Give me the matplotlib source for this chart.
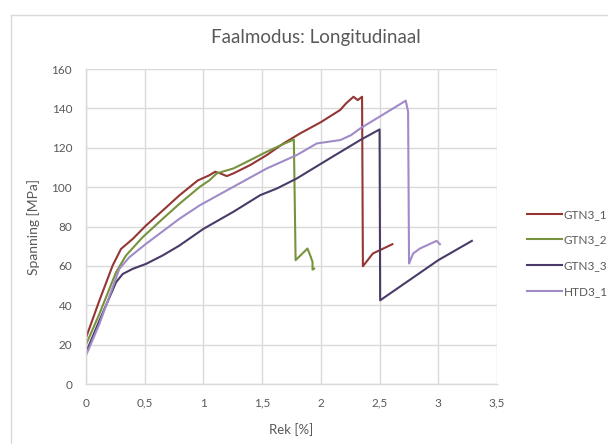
import matplotlib
matplotlib.use("Agg")
import matplotlib.pyplot as plt
from matplotlib.lines import Line2D

title = "Faalmodus: Longitudinaal"
xlabel = "Rek [%]"
ylabel = "Spanning [MPa]"

xticks = [0, 0.5, 1, 1.5, 2, 2.5, 3, 3.5]
xticklabels = ["0", "0,5", "1", "1,5", "2", "2,5", "3", "3,5"]
yticks = [0, 20, 40, 60, 80, 100, 120, 140, 160]
yticklabels = ["0", "20", "40", "60", "80", "100", "120", "140", "160"]

names = ["GTN3_1", "GTN3_2", "GTN3_3", "HTD3_1"]

gtn3_1_x = [0, 0.114, 0.227, 0.298, 0.398, 0.511, 0.653, 0.795, 0.952, 1.05, 1.099, 1.142,
            1.199, 1.256, 1.398, 1.54, 1.682, 1.824, 2.0, 2.165, 2.214, 2.278, 2.314, 2.351,
            2.358, 2.443, 2.609]
gtn3_1_y = [23.5, 42.4, 60.2, 68.6, 73.7, 80.5, 88.1, 95.8, 103.4, 106, 107.8, 107,
            105.6, 107, 111.2, 116.3, 122.2, 127.3, 133, 139.2, 142.5, 145.9, 144.2, 145.9,
            59.8, 66.3, 71.0]

gtn3_2_x = [0, 0.114, 0.256, 0.341, 0.483, 0.653, 0.795, 0.97, 1.05, 1.114, 1.256, 1.398,
            1.54, 1.682, 1.77, 1.785, 1.886, 1.914, 1.929, 1.929, 1.943]
gtn3_2_y = [20, 35.6, 56.8, 65.3, 74.6, 83.9, 91.5, 100.2, 103.4, 107, 109.5, 113.7,
            118, 121.9, 124.2, 62.9, 68.8, 64.6, 62, 58.1, 58.6]

gtn3_3_x = [0, 0.114, 0.256, 0.313, 0.398, 0.511, 0.653, 0.795, 1.0, 1.256, 1.483, 1.625,
            1.795, 2.051, 2.335, 2.5, 2.505, 3.0, 3.286]
gtn3_3_y = [16, 32.2, 51.7, 55.9, 58.5, 61, 65.3, 70.3, 78.8, 87.5, 95.9, 99.3,
            104.4, 113.7, 123.9, 129.3, 42.5, 62.9, 72.7]

htd3_1_x = [0, 0.114, 0.284, 0.369, 0.511, 0.795, 0.97, 1.256, 1.54, 1.795, 1.966, 2.165,
            2.257, 2.335, 2.723, 2.743, 2.751, 2.786, 2.843, 2.986, 3.014]
htd3_1_y = [14.5, 30.5, 58.5, 64.4, 71.2, 83.9, 90.8, 100.2, 109.5, 116.3, 122.2, 123.9,
            126.4, 129.8, 143.9, 138.3, 61.2, 66.3, 68.8, 72.7, 71]

series_x = [gtn3_1_x, gtn3_2_x, gtn3_3_x, htd3_1_x]
series_y = [gtn3_1_y, gtn3_2_y, gtn3_3_y, htd3_1_y]
colors = ["#943634", "#77933C", "#4A3A68", "#A08BC8"]

plt.rcParams['font.family'] = ['Lato', 'DejaVu Sans']
txt = "#595959"
W, H = 608, 444
fig = plt.figure(figsize=(W / 100, H / 100), dpi=100)

# chart area border
fig.add_artist(Line2D([11 / W, 11 / W], [0, 1 - 15 / H], transform=fig.transFigure,
                      color="#D9D9D9", lw=1.0))
fig.add_artist(Line2D([11 / W, 1], [1 - 15 / H, 1 - 15 / H], transform=fig.transFigure,
                      color="#D9D9D9", lw=1.0))

ax = fig.add_axes([86 / W, 1 - 384 / H, (497 - 86) / W, (384 - 69) / H])
for xs, ys, c, n in zip(series_x, series_y, colors, names):
    ax.plot(xs, ys, color=c, lw=1.5, label=n, solid_joinstyle="round")

ax.set_xlim(0, 3.5)
ax.set_ylim(0, 160)
ax.set_xticks(xticks)
ax.set_xticklabels(xticklabels)
ax.set_yticks(yticks)
ax.set_yticklabels(yticklabels)
ax.grid(True, color="#D9D9D9", lw=1.0)
ax.set_axisbelow(True)
for s in ["top", "right"]:
    ax.spines[s].set_visible(False)
for s in ["left", "bottom"]:
    ax.spines[s].set_color("#D9D9D9")
    ax.spines[s].set_linewidth(1.0)
ax.tick_params(length=0, colors=txt, labelsize=8.5)
ax.tick_params(axis="x", pad=10)
ax.tick_params(axis="y", pad=10)

ax.set_xlabel(xlabel, color=txt, fontsize=9.5, labelpad=10)
ax.set_ylabel(ylabel, color=txt, fontsize=10, labelpad=8.5)
fig.text(316 / W, 1 - 38 / H, title, ha="center", va="center", color=txt, fontsize=13.5)

leg = ax.legend(loc="upper left", bbox_to_anchor=(522 / W, 1 - 204 / H),
                bbox_transform=fig.transFigure, frameon=False, fontsize=8.5,
                handlelength=3.0, handletextpad=0.15, labelspacing=1.25, borderaxespad=0)
for t in leg.get_texts():
    t.set_color(txt)

fig.savefig("out.png", dpi=100)
